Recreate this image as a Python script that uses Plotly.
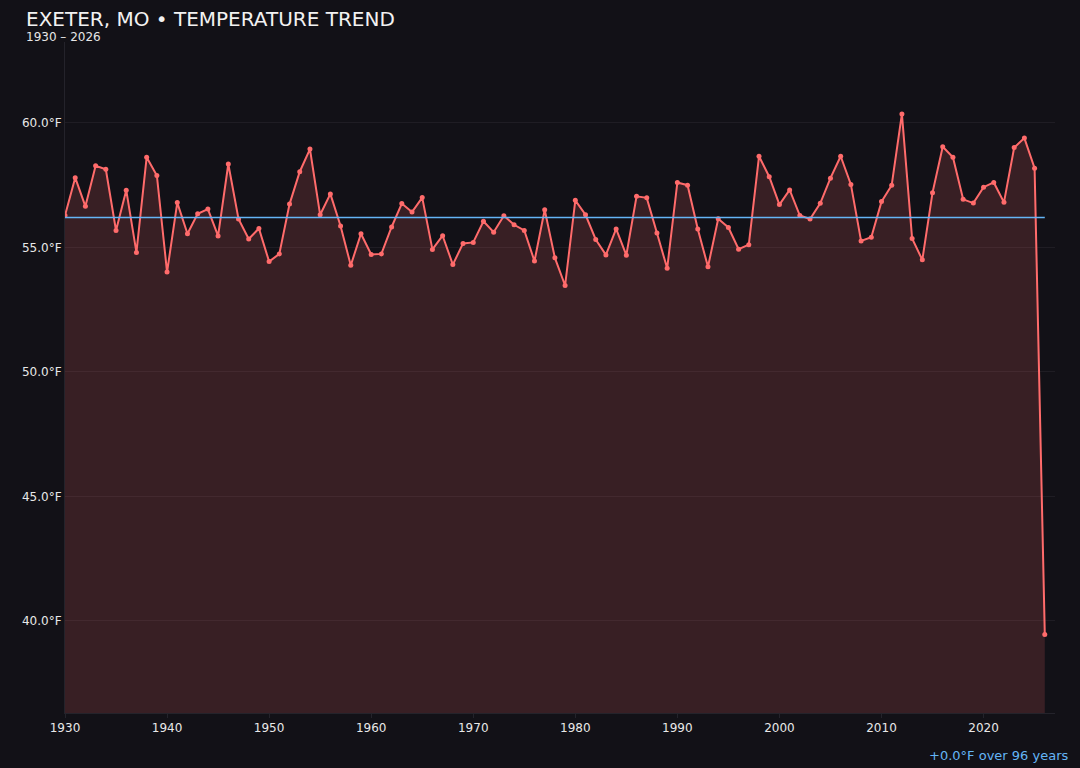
import plotly.graph_objects as go

# ── data ──────────────────────────────────────────────────────
YEARS = list(range(1930, 2027))
TEMPS_F = [
    56.28, 57.80, 56.65, 58.28, 58.14, 55.68, 57.30, 54.80, 58.62, 57.89,  # 1930s
    54.01, 56.80, 55.55, 56.35, 56.54, 55.46, 58.35, 56.14, 55.34, 55.76,  # 1940s
    54.43, 54.74, 56.74, 58.04, 58.95, 56.31, 57.15, 55.86, 54.28, 55.55,  # 1950s
    54.72, 54.74, 55.82, 56.76, 56.42, 57.00, 54.92, 55.47, 54.31, 55.16,  # 1960s
    55.20, 56.05, 55.61, 56.27, 55.91, 55.68, 54.45, 56.51, 54.58, 53.47,  # 1970s
    56.89, 56.31, 55.32, 54.70, 55.74, 54.69, 57.05, 56.99, 55.58, 54.16,  # 1980s
    57.61, 57.50, 55.74, 54.22, 56.15, 55.80, 54.93, 55.11, 58.66, 57.84,  # 1990s
    56.72, 57.31, 56.28, 56.14, 56.77, 57.78, 58.66, 57.53, 55.26, 55.41,  # 2000s
    56.84, 57.50, 60.36, 55.36, 54.50, 57.20, 59.04, 58.62, 56.93, 56.78,  # 2010s
    57.42, 57.61, 56.81, 59.01, 59.39, 58.18, 39.45,                       # 2020s
]
MEAN_F = 56.20
Y_TICKS = [40, 45, 50, 55, 60]
Y_TICK_LABELS = ["40.0°F", "45.0°F", "50.0°F", "55.0°F", "60.0°F"]
X_TICKS = list(range(1930, 2021, 10))

TITLE = "EXETER, MO • TEMPERATURE TREND"
SUBTITLE = "1930 – 2026"
TREND_TEXT = "+0.0°F over 96 years"

BG = "#121117"
LINE = "#ff6b6b"
MEAN_COLOR = "#64b5f6"
FONT = "DejaVu Sans"

fig = go.Figure()

fig.add_trace(go.Scatter(
    x=YEARS, y=TEMPS_F,
    mode="lines+markers",
    line=dict(color=LINE, width=2),
    marker=dict(size=5, color=LINE),
    fill="tozeroy",
    fillcolor="rgba(255,107,107,0.16)",
    hovertemplate="%{x}<br>%{y:.1f}°F<extra></extra>",
    showlegend=False,
))

# mean reference line
fig.add_trace(go.Scatter(
    x=[YEARS[0], YEARS[-1]], y=[MEAN_F, MEAN_F],
    mode="lines",
    line=dict(color=MEAN_COLOR, width=1.5),
    hoverinfo="skip",
    showlegend=False,
))

# plot area spans px 65..1055 x 42..713 -> paper coords for the header/footer texts
fig.add_annotation(
    text=TITLE, xref="paper", yref="paper", x=-0.0414, y=1.034,
    xanchor="left", yanchor="middle", showarrow=False,
    font=dict(family=FONT, size=20, color="#f2f2f2"),
)
fig.add_annotation(
    text=SUBTITLE, xref="paper", yref="paper", x=-0.0414, y=1.0075,
    xanchor="left", yanchor="middle", showarrow=False,
    font=dict(family=FONT, size=12, color="#e6e6e6"),
)
fig.add_annotation(
    text=TREND_TEXT, xref="paper", yref="paper", x=1.0152, y=-0.064,
    xanchor="right", yanchor="middle", showarrow=False,
    font=dict(family=FONT, size=13, color=MEAN_COLOR),
)

fig.update_layout(
    width=1080, height=768,
    paper_bgcolor=BG, plot_bgcolor=BG,
    font=dict(family=FONT, color="#e0e0e0", size=12),
    margin=dict(l=65, r=25, t=42, b=55),
    xaxis=dict(
        range=[1930, 2027],
        tickvals=X_TICKS,
        showgrid=False, zeroline=False,
        showline=True, linecolor="#24232b", linewidth=1,
        ticks="outside", ticklen=4, tickcolor="#24232b",
        tickfont=dict(size=12, color="#e8e8e8"),
    ),
    yaxis=dict(
        range=[36.3, 63.25],
        tickvals=Y_TICKS, ticktext=Y_TICK_LABELS,
        showgrid=True, gridcolor="#1f1d24", gridwidth=1,
        zeroline=False,
        showline=True, linecolor="#24232b", linewidth=1,
        tickfont=dict(size=12, color="#e8e8e8"),
    ),
)

# drop the default page margin so the dark figure fills the window
fig.write_html(
    "out.html",
    config={"displayModeBar": False},
    post_script="document.body.style.margin='0';document.body.style.background='#121117';",
)
